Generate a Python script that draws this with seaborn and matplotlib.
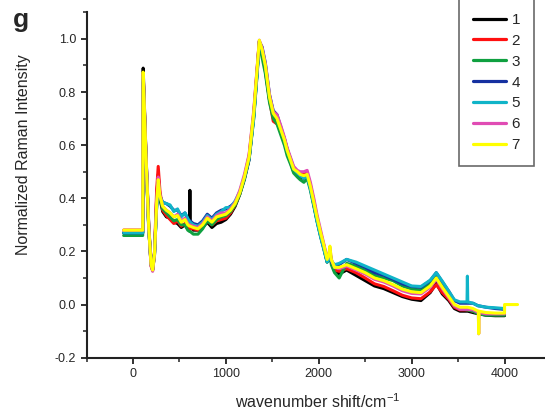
import numpy as np
import pandas as pd
import matplotlib
matplotlib.use("Agg")
import matplotlib.pyplot as plt
from matplotlib.lines import Line2D
from matplotlib.ticker import MultipleLocator, FormatStrFormatter
import seaborn as sns

# ---------------- data ----------------
wavenumber = [-100, 105, 110, 140, 170, 195, 212, 232, 255, 272, 290, 320, 360, 400, 440, 480,
              520, 560, 590, 610, 613, 616, 650, 700, 750, 800, 850, 900, 950, 1000, 1050, 1100,
              1150, 1200, 1250, 1300, 1335, 1360, 1390, 1425, 1470, 1510, 1550, 1590, 1630, 1660,
              1700, 1730, 1770, 1800, 1840, 1875, 1910, 1950, 1980, 2020, 2050, 2090, 2110, 2120,
              2135, 2170, 2220, 2300, 2400, 2500, 2600, 2700, 2800, 2900, 3000, 3100, 3200, 3265,
              3330, 3400, 3460, 3520, 3596, 3600, 3604, 3660, 3718, 3722, 3726, 3800, 3900, 4000]

s1 = [.270, .270, .890, .570, .300, .150, .130, .185, .400, .490, .400, .350, .330, .325, .310, .305,
      .290, .300, .285, .300, .430, .300, .280, .280, .290, .310, .290, .305, .310, .320, .340, .370,
      .415, .475, .550, .710, .870, .990, .955, .880, .770, .710, .690, .650, .610, .575,
      .530, .500, .490, .480, .475, .480, .440, .370, .320, .260, .220, .160, .175, .195,
      .160, .125, .115, .130, .110, .090, .070, .060, .045, .030, .020, .015, .045, .080,
      .040, .015, -.015, -.025, -.025, -.025, -.025, -.030, -.035, -.035, -.035, -.040, -.042, -.042]

s2 = [.280, .280, .870, .560, .290, .145, .130, .200, .430, .520, .430, .355, .335, .320, .305, .315,
      .295, .305, .290, .285, .285, .285, .285, .280, .295, .315, .300, .315, .320, .325, .345, .375,
      .420, .480, .560, .720, .880, .990, .955, .890, .770, .690, .680, .660, .625, .585,
      .540, .505, .495, .495, .490, .495, .450, .385, .330, .270, .230, .170, .180, .200,
      .165, .130, .125, .135, .120, .100, .078, .068, .052, .035, .025, .022, .048, .075,
      .045, .020, -.010, -.020, -.020, -.020, -.020, -.025, -.030, -.030, -.030, -.035, -.038, -.038]

s3 = [.260, .260, .860, .550, .280, .160, .140, .190, .370, .450, .400, .360, .345, .330, .315, .320,
      .300, .300, .280, .275, .275, .275, .265, .265, .285, .315, .300, .320, .330, .335, .350, .375,
      .415, .470, .545, .700, .860, .980, .930, .870, .760, .700, .680, .640, .600, .560,
      .525, .495, .480, .470, .460, .475, .430, .365, .315, .255, .215, .160, .170, .200,
      .150, .120, .100, .155, .145, .130, .110, .100, .090, .070, .058, .055, .078, .105,
      .070, .035, -.005, -.015, -.020, -.020, -.020, -.025, -.035, -.035, -.035, -.040, -.040, -.040]

s4 = [.270, .270, .870, .560, .290, .150, .130, .195, .370, .460, .410, .385, .380, .370, .355, .355,
      .335, .345, .320, .315, .315, .315, .305, .300, .315, .340, .325, .345, .355, .360, .370, .385,
      .420, .475, .545, .710, .870, .990, .970, .910, .790, .730, .715, .670, .625, .585,
      .545, .515, .500, .490, .480, .490, .440, .375, .320, .260, .220, .165, .175, .205,
      .160, .145, .150, .170, .155, .140, .120, .110, .095, .078, .068, .065, .090, .120,
      .085, .050, .015, .005, .005, .005, .005, .005, -.005, -.005, -.005, -.010, -.015, -.018]

s5 = [.270, .270, .860, .550, .285, .150, .135, .190, .365, .455, .405, .385, .380, .375, .350, .360,
      .330, .345, .325, .310, .310, .310, .300, .295, .310, .335, .320, .340, .350, .365, .365, .390,
      .425, .480, .550, .700, .860, .985, .960, .900, .785, .725, .710, .665, .620, .580,
      .540, .510, .495, .485, .475, .485, .435, .370, .315, .255, .215, .160, .175, .200,
      .165, .150, .155, .170, .160, .145, .130, .115, .100, .085, .070, .068, .092, .120,
      .088, .050, .018, .010, .010, .107, .010, .005, -.005, -.005, -.005, -.010, -.012, -.015]

s6 = [.280, .280, .870, .565, .295, .145, .125, .190, .390, .480, .415, .370, .355, .345, .330, .340,
      .315, .325, .305, .300, .300, .300, .295, .290, .305, .330, .315, .335, .345, .345, .360, .385,
      .430, .490, .565, .730, .885, .995, .965, .905, .790, .725, .715, .675, .630, .590,
      .550, .520, .505, .500, .500, .505, .460, .395, .340, .280, .235, .175, .190, .215,
      .170, .140, .135, .145, .130, .115, .095, .085, .070, .052, .042, .040, .065, .095,
      .060, .025, -.005, -.018, -.018, -.018, -.018, -.020, -.030, -.110, -.030, -.035, -.035, -.035]

s7 = [.280, .280, .875, .560, .290, .150, .130, .190, .380, .470, .410, .370, .355, .345, .330, .335,
      .310, .320, .300, .295, .295, .295, .290, .285, .300, .325, .310, .330, .335, .340, .355, .380,
      .420, .480, .555, .720, .880, .995, .960, .900, .780, .720, .700, .660, .620, .580,
      .540, .510, .500, .490, .485, .490, .445, .380, .330, .270, .230, .170, .190, .220,
      .170, .140, .140, .150, .135, .120, .100, .090, .075, .058, .048, .045, .070, .100,
      .065, .030, .000, -.010, -.010, -.010, -.010, -.015, -.025, -.110, -.025, -.030, -.032, -.032]
s7_tail_x = [4000, 4140]
s7_tail_y = [0.0, 0.0]

series_names = ["1", "2", "3", "4", "5", "6", "7"]
series_values = [s1, s2, s3, s4, s5, s6, s7]
series_colors = ["#000000", "#ff1010", "#0fa040", "#1530a0", "#10b4c8", "#e04cb4", "#ffff00"]

x_ticks = [0, 1000, 2000, 3000, 4000]
y_ticks = [-0.2, 0.0, 0.2, 0.4, 0.6, 0.8, 1.0]

# ---------------- build long table ----------------
frames = []
for name, vals in zip(series_names, series_values):
    xs = list(wavenumber)
    ys = list(vals)
    if name == "7":
        xs += s7_tail_x
        ys += s7_tail_y
    frames.append(pd.DataFrame({"x": xs, "y": ys, "series": name}))
df = pd.concat(frames, ignore_index=True)

# ---------------- style ----------------
sns.set_theme(style="ticks")
plt.rcParams["font.family"] = ["Liberation Sans", "DejaVu Sans"]
plt.rcParams["axes.unicode_minus"] = False
plt.rcParams["mathtext.fontset"] = "custom"
plt.rcParams["mathtext.rm"] = "Liberation Sans"
plt.rcParams["mathtext.it"] = "Liberation Sans:italic"
plt.rcParams["mathtext.default"] = "regular"

fig = plt.figure(figsize=(5.45, 4.16), dpi=100)
ax = fig.add_axes([86.5 / 545, (416 - 357.7) / 416, (551 - 86.5) / 545, (357.7 - 12.3) / 416])

sns.lineplot(data=df, x="x", y="y", hue="series", hue_order=series_names,
             palette=series_colors, estimator=None, sort=False, linewidth=2.2,
             legend=False, ax=ax)

ax.set_xlim(-500, 4500)
ax.set_ylim(-0.2, 1.1)
ax.set_xticks(x_ticks)
ax.set_yticks(y_ticks)
ax.xaxis.set_minor_locator(MultipleLocator(500))
ax.yaxis.set_minor_locator(MultipleLocator(0.1))
ax.yaxis.set_major_formatter(FormatStrFormatter("%.1f"))

for side in ["top", "right"]:
    ax.spines[side].set_visible(False)
for side in ["left", "bottom"]:
    ax.spines[side].set_linewidth(1.5)
    ax.spines[side].set_color("#222222")

ax.tick_params(axis="both", which="major", direction="out", length=4.5, width=1.3,
               labelsize=9, color="#222222", pad=3)
ax.tick_params(axis="both", which="minor", direction="out", length=3, width=1.1, color="#222222")

ax.set_xlabel("wavenumber shift/cm$^{-1}$", fontsize=11.5, va="center")
ax.xaxis.set_label_coords(0.498, -0.127)
ax.set_ylabel("Normalized Raman Intensity", fontsize=11.5, va="center")
ax.yaxis.set_label_coords(-0.136, 0.587)

handles = [Line2D([0], [0], color=c, lw=2.3) for c in series_colors]
leg = fig.legend(handles, series_names, loc="upper left", bbox_to_anchor=(458.8 / 545, 1.002),
                 frameon=True, fancybox=False, fontsize=11, handlelength=2.2,
                 handletextpad=0.35, labelspacing=0.45, borderpad=0.9, borderaxespad=0)
leg.get_frame().set_edgecolor("#444444")
leg.get_frame().set_linewidth(1.2)

fig.text(12.7 / 545, 1 - 26.7 / 416, "g", fontsize=19, fontweight="bold", ha="left", va="baseline")

fig.savefig("out.png", dpi=100)
